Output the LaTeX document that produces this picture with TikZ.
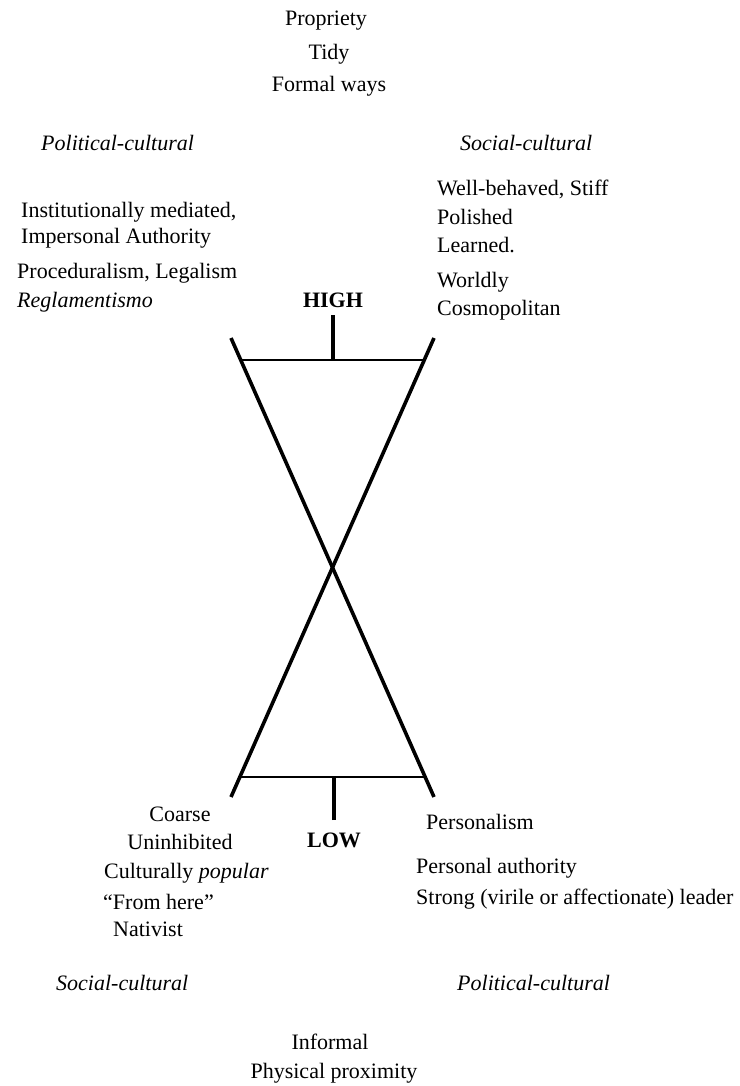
\documentclass[tikz,border=0pt]{standalone}
\usepackage{fontspec}
\setmainfont{Liberation Serif}
\usetikzlibrary{calc}

\tikzset{
  lbl/.style={font=\fontsize{22}{26}\selectfont, inner sep=0pt},
  side/.style={font=\fontsize{22}{26}\selectfont\itshape, inner sep=0pt},
  level/.style={font=\fontsize{22}{26}\selectfont\bfseries, inner sep=0pt},
  bar/.style={line width=3.6pt},
  rung/.style={line width=1.6pt}
}

\begin{document}
\begin{tikzpicture}[x=1pt,y=-1pt]
        \useasboundingbox (0,0) rectangle (739,1086);
        % top
        \node[lbl,anchor=base] (propriety) at (326,26) {Propriety};
        \node[lbl,anchor=base] (tidy) at (329,60) {Tidy};
        \node[lbl,anchor=base] (formal) at (329,92) {Formal ways};
        \node[side,anchor=base west] (polA) at (41,151) {Political-cultural};
        \node[side,anchor=base west] (socA) at (460,151) {Social-cultural};
        \node[lbl,anchor=base west] (inst) at (21,217) {Institutionally mediated,};
        \node[lbl,anchor=base west] (imper) at (21,243) {Impersonal Authority};
        \node[lbl,anchor=base west] (proc) at (17,278) {Proceduralism, Legalism};
        \node[side,anchor=base west] (regl) at (17,307) {Reglamentismo};
        \node[lbl,anchor=base west] (well) at (437,196) {Well-behaved, Stiff};
        \node[lbl,anchor=base west] (polish) at (437,224) {Polished};
        \node[lbl,anchor=base west] (learn) at (437,252) {Learned.};
        \node[lbl,anchor=base west] (world) at (437,287) {Worldly};
        \node[lbl,anchor=base west] (cosmo) at (437,315) {Cosmopolitan};
        \node[level,anchor=base] (high) at (333,307) {HIGH};
        % the X
        \coordinate (tl) at (231,338);
        \coordinate (br) at (434,797);
        \coordinate (tr) at (434,338);
        \coordinate (bl) at (231,797);
        \draw[bar] (tl) -- (br) coordinate[pos=.048] (hl) coordinate[pos=.956] (lr);
        \draw[bar] (tr) -- (bl) coordinate[pos=.048] (hr) coordinate[pos=.956] (ll);
        \draw[rung] (hl) -- (hr);
        \draw[rung] (ll) -- (lr);
        % bottom
        \node[level,anchor=base] (low) at (334,847) {LOW};
        \draw[bar] ([yshift=-8pt]high.south) -- (high |- hl);
        \draw[bar] ([yshift=12pt]low.north) -- (low |- ll);
        \node[lbl,anchor=base] (coarse) at (180,821) {Coarse};
        \node[lbl,anchor=base] (uninh) at (180,849) {Uninhibited};
        \node[lbl,anchor=base west] (cult) at (104,878) {Culturally \textit{popular}};
        \node[lbl,anchor=base west] (here) at (103,909) {“From here”};
        \node[lbl,anchor=base west] (nativ) at (113,936) {Nativist};
        \node[lbl,anchor=base west] (pers) at (426,829) {Personalism};
        \node[lbl,anchor=base west] (auth) at (416,873) {Personal authority};
        \node[lbl,anchor=base west] (strong) at (416,904) {Strong (virile or affectionate) leader};
        \node[side,anchor=base west] (socB) at (56,990) {Social-cultural};
        \node[side,anchor=base west] (polB) at (457,990) {Political-cultural};
        \node[lbl,anchor=base] (inform) at (330,1049) {Informal};
        \node[lbl,anchor=base] (phys) at (334,1078) {Physical proximity};
\end{tikzpicture}
\end{document}
